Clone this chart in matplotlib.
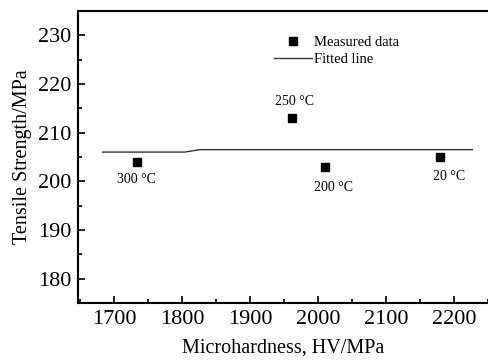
import matplotlib
matplotlib.use("Agg")
import matplotlib.pyplot as plt
from matplotlib.ticker import MultipleLocator

plt.rcParams['font.family'] = ['Liberation Serif', 'DejaVu Serif']

# measured data
dureza = [1733, 1962, 2010, 2180]
resistencia = [204.0, 213.0, 203.0, 205.0]
rotulos = ['300 °C', '250 °C', '200 °C', '20 °C']
# posicao do rotulo (deslocamento em pontos)
desloc = [(0, -13), (2, 12), (6, -15), (6, -14)]

# fitted line
linha_x = [1683, 1804, 1826, 2227]
linha_y = [206.0, 206.0, 206.5, 206.5]

fig = plt.figure(figsize=(4.88, 3.61), dpi=100)
ax = fig.add_axes([0.16, 0.161, 0.84, 0.8085])

ax.plot(linha_x, linha_y, color='#333333', lw=1.0, label='Fitted line')
ax.plot(dureza, resistencia, 's', color='black', ms=6.2, ls='none', label='Measured data')

for x, y, t, d in zip(dureza, resistencia, rotulos, desloc):
    ax.annotate(t, (x, y), xytext=d, textcoords='offset points',
                ha='center', va='center', fontsize=10)

ax.set_xlim(1647, 2250)
ax.set_ylim(175, 235)
ax.xaxis.set_major_locator(MultipleLocator(100))
ax.xaxis.set_minor_locator(MultipleLocator(50))
ax.yaxis.set_major_locator(MultipleLocator(10))
ax.yaxis.set_minor_locator(MultipleLocator(5))
ax.set_yticks([180, 190, 200, 210, 220, 230])
ax.tick_params(which='both', direction='in', top=False, right=False, labelsize=16, width=1.2)
ax.tick_params(which='major', length=5, pad=5)
ax.tick_params(which='minor', length=3)
ax.spines['right'].set_visible(False)
for s in ['left', 'bottom', 'top']:
    ax.spines[s].set_linewidth(1.5)

ax.set_xlabel('Microhardness, HV/MPa', fontsize=14.5, labelpad=7)
ax.set_ylabel('Tensile Strength/MPa', fontsize=14.5, labelpad=4)

h, l = ax.get_legend_handles_labels()
ax.legend(h[::-1], l[::-1], loc='upper left', bbox_to_anchor=(0.445, 0.96),
          frameon=False, fontsize=10.5, handlelength=2.6, labelspacing=0.25,
          handletextpad=0.2)

plt.savefig('out.png', dpi=100)
